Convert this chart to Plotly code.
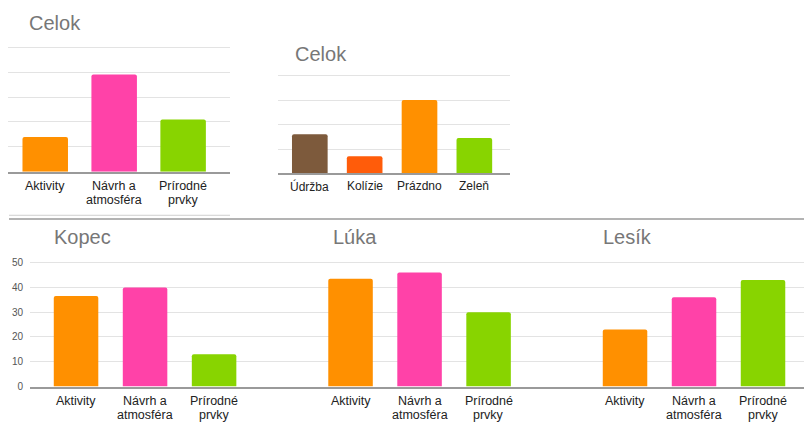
import plotly.graph_objects as go

# page has an 8px body margin; figure is sized to fill the rest of the 812x432 window
OFF = 8
W, H = 812 - OFF, 432 - OFF

# ---- data ----
cats3 = ["Aktivity", "Návrh a<br>atmosféra", "Prírodné<br>prvky"]
colors3 = ["#FF9000", "#FF42A8", "#88D400"]
celok1 = [14, 39, 21]

cats4 = ["Údržba", "Kolízie", "Prázdno", "Zeleň"]
colors4 = ["#7D5A3C", "#FF5C0A", "#FF9000", "#88D400"]
celok2 = [16, 7, 30, 14.5]

kopec = [36.5, 40, 13]
luka = [43.5, 46, 30]
lesik = [23, 36, 43]

titles = ["Celok", "Celok", "Kopec", "Lúka", "Lesík"]
yticks = [0, 10, 20, 30, 40, 50]

FONT = "Liberation Sans, Arial"


def px(x):
    return max(0.0, min(1.0, (x - OFF) / W))


def py(y):
    return max(0.0, min(1.0, 1 - (y - OFF) / H))


fig = go.Figure()

panels = [
    dict(cats=cats3, vals=celok1, colors=colors3, xd=[8, 230], yd=[172.3, 42.4], xr=[-0.54, 2.68], yr=[0, 51], bw=0.66, fs=12.5, l1=14.3, ls=14.2),
    dict(cats=cats4, vals=celok2, colors=colors4, xd=[278, 510], yd=[174, 71.5], xr=[-0.58, 3.65], yr=[0, 41], bw=0.65, fs=12, l1=12.7, ls=14),
    dict(cats=cats3, vals=kopec, colors=colors3, xd=[30, 304.5], yd=[391.7, 262.5], xr=[-0.667, 3.31], yr=[0, 51], bw=0.645, fs=12.5, l1=14.6, ls=14.2),
    dict(cats=cats3, vals=luka, colors=colors3, xd=[304.5, 579], yd=[391.7, 262.5], xr=[-0.667, 3.31], yr=[0, 51], bw=0.645, fs=12.5, l1=14.6, ls=14.2),
    dict(cats=cats3, vals=lesik, colors=colors3, xd=[579, 812], yd=[391.7, 262.5], xr=[-0.667, 2.71], yr=[0, 51], bw=0.645, fs=12.5, l1=14.6, ls=14.2),
]

layout = {}
annotations = []
for i, p in enumerate(panels):
    n = "" if i == 0 else str(i + 1)
    fig.add_trace(go.Bar(
        x=p["cats"], y=p["vals"], marker=dict(color=p["colors"], line=dict(width=0)),
        width=p["bw"], xaxis="x" + n, yaxis="y" + n, showlegend=False,
        hoverinfo="y",
    ))
    layout["xaxis" + n] = dict(
        domain=[px(p["xd"][0]), px(p["xd"][1])], anchor="y" + n,
        type="category", range=p["xr"], showgrid=False, zeroline=False,
        showline=True, linecolor="#9a9a9a", linewidth=1.5,
        ticks="", showticklabels=False,
        fixedrange=True,
    )
    layout["yaxis" + n] = dict(
        domain=[py(p["yd"][0]), py(p["yd"][1])], anchor="x" + n,
        range=p["yr"], tickvals=yticks, showgrid=True, gridcolor="#e3e3e3", gridwidth=1,
        zeroline=False, showline=False,
        showticklabels=(i == 2), ticks="", ticklabelstandoff=6,
        tickfont=dict(family=FONT, size=10, color="#555"),
        fixedrange=True,
    )
    # category labels, one annotation per text line (tight leading as in the original)
    for ci, c in enumerate(p["cats"]):
        for k, line in enumerate(c.split("<br>")):
            annotations.append(dict(
                text=line, x=ci, y=0, xref="x" + n, yref="y" + n,
                xanchor="center", yanchor="middle", yshift=-(p["l1"] + k * p["ls"]),
                showarrow=False, borderpad=0,
                font=dict(family=FONT, size=p["fs"], color="#222"),
            ))

title_pos = [(27, 20), (293, 52), (52, 239), (331, 239), (601, 239)]
for t, (x, y) in zip(titles, title_pos):
    annotations.append(dict(
        text=t, x=px(x), y=py(y), xref="paper", yref="paper",
        xanchor="left", yanchor="middle", showarrow=False,
        font=dict(family=FONT, size=20, color="#777"),
    ))

shapes = [
    dict(type="line", xref="paper", yref="paper", x0=px(9), x1=px(230), y0=py(216.7), y1=py(216.7),
         line=dict(color="#cfcfcf", width=1)),
    dict(type="line", xref="paper", yref="paper", x0=px(9), x1=px(812), y0=py(220.5), y1=py(220.5),
         line=dict(color="#9a9a9a", width=1.5)),
]

fig.update_layout(
    width=W, height=H, margin=dict(l=0, r=0, t=0, b=0),
    paper_bgcolor="white", plot_bgcolor="white",
    annotations=annotations, shapes=shapes, barcornerradius=2,
    **layout,
)

fig.write_html("out.html", config={"displayModeBar": False})
